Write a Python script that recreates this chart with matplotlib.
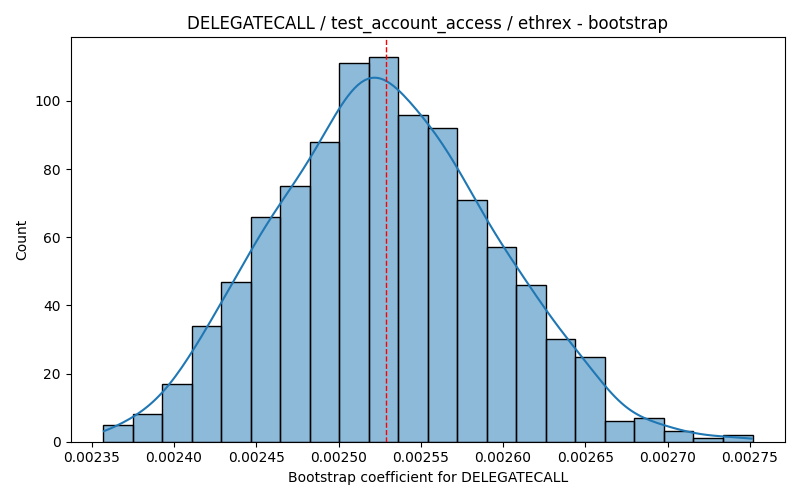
import numpy as np
import pandas as pd
import seaborn as sns
from matplotlib import pyplot as plt

# bin edges (22 bins)
bin_start = 0.0023569
bin_end = 0.0027516
counts = [5, 8, 17, 34, 47, 66, 75, 88, 111, 113, 96,
          92, 71, 57, 46, 30, 25, 6, 7, 3, 1, 2]
mean_coef = 0.0025288

edges = np.linspace(bin_start, bin_end, len(counts) + 1)
centers = (edges[:-1] + edges[1:]) / 2
df = pd.DataFrame({'coef': centers, 'n': counts})

fig, ax = plt.subplots(figsize=(8, 5), dpi=100)
# weights shrink the effective sample size, so narrow the bandwidth back
sns.histplot(data=df, x='coef', weights='n', bins=len(counts),
             binrange=(bin_start, bin_end), kde=True,
             kde_kws={'cut': 0.33, 'bw_adjust': 0.41}, ax=ax)
ax.axvline(mean_coef, color='red', linestyle='--', linewidth=1)
span = bin_end - bin_start
ax.set_xlim(bin_start - 0.05 * span, bin_end + 0.05 * span)
ax.set_title('DELEGATECALL / test_account_access / ethrex - bootstrap')
ax.set_xlabel('Bootstrap coefficient for DELEGATECALL')
ax.set_ylabel('Count')
plt.tight_layout()
plt.savefig('out.png')
